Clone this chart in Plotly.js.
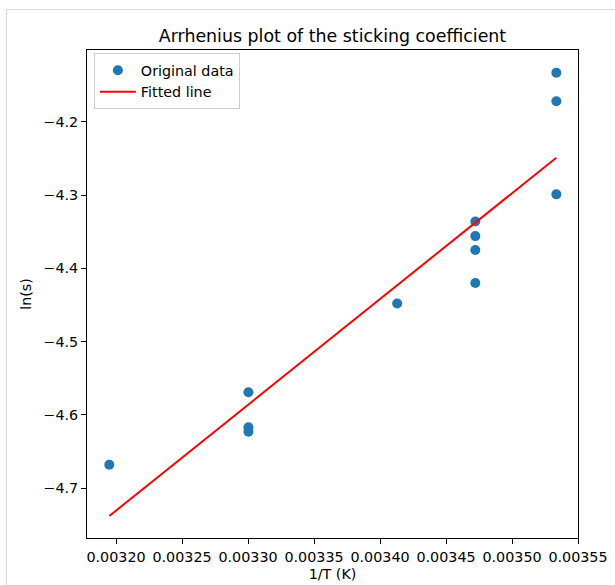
<!DOCTYPE html>
<html>
<head>
<meta charset="utf-8">
<script src="https://cdn.plot.ly/plotly-3.0.1.min.js"></script>
<style>
  html, body { margin: 0; padding: 0; background: #fff; }
  #wrap { position: relative; width: 615px; height: 585px; overflow: hidden; }
  #chart { position: absolute; left: 0; top: 0; width: 615px; height: 585px; }
  #frame { position: absolute; left: 6px; top: 9px; width: 700px; height: 700px;
           border-left: 1px solid #d9d9d9; border-top: 1px solid #d9d9d9; pointer-events: none; }
</style>
</head>
<body>
<div id="wrap">
  <div id="chart"></div>
  <div id="frame"></div>
</div>
<script>
// Original data: 1/T (K^-1) and ln(s)
const invT = [0.0031949, 0.0033003, 0.0033003, 0.0033003, 0.0034130,
              0.0034722, 0.0034722, 0.0034722, 0.0034722,
              0.0035336, 0.0035336, 0.0035336];
const lnS  = [-4.668, -4.569, -4.617, -4.623, -4.448,
              -4.336, -4.356, -4.375, -4.420,
              -4.133, -4.172, -4.299];
// Fitted line endpoints
const fitX = [0.0031949, 0.0035336];
const fitY = [-4.738, -4.249];

const title = "Arrhenius plot of the sticking coefficient";
const xLabel = "1/T (K)";
const yLabel = "ln(s)";
const xTicks = [0.00320, 0.00325, 0.00330, 0.00335, 0.00340, 0.00345, 0.00350, 0.00355];
const yTicks = [-4.7, -4.6, -4.5, -4.4, -4.3, -4.2];

const font = "DejaVu Sans, sans-serif";
const fs = 14.3;

const traces = [
  {
    x: invT, y: lnS, type: "scatter", mode: "markers", name: "Original data",
    marker: { color: "#1f77b4", size: 10 }
  },
  {
    x: fitX, y: fitY, type: "scatter", mode: "lines", name: "Fitted line",
    line: { color: "red", width: 2 }
  }
];

const axisCommon = {
  showgrid: false, zeroline: false, showline: true, mirror: true,
  linecolor: "#000", linewidth: 1, ticks: "outside", ticklen: 5,
  tickwidth: 1, tickcolor: "#000",
  tickfont: { family: font, size: fs, color: "#000" }
};

const layout = {
  width: 615, height: 585,
  margin: { l: 87, r: 37, t: 50, b: 47 },
  paper_bgcolor: "#fff", plot_bgcolor: "#fff",
  font: { family: font, color: "#000" },
  title: {
    text: title, font: { family: font, size: 17.4, color: "#000" },
    x: (87 + 578) / 2 / 615, xanchor: "center",
    y: 1 - 36 / 585, yanchor: "middle", yref: "container"
  },
  xaxis: Object.assign({}, axisCommon, {
    range: [0.003178, 0.00355],
    tickvals: xTicks, tickformat: ".5f", ticklabelstandoff: 1,
    title: { text: xLabel, font: { family: font, size: fs, color: "#000" }, standoff: 4 }
  }),
  yaxis: Object.assign({}, axisCommon, {
    range: [-4.768, -4.102],
    tickvals: yTicks, tickformat: ".1f",
    title: { text: yLabel, font: { family: font, size: fs, color: "#000" }, standoff: 8 }
  }),
  showlegend: true,
  legend: {
    x: 0.014, y: 0.993, xanchor: "left", yanchor: "top",
    bgcolor: "rgba(255,255,255,0.8)", bordercolor: "#cccccc", borderwidth: 1,
    font: { family: font, size: fs, color: "#000" },
    itemwidth: 36, tracegroupgap: 0
  }
};

Plotly.newPlot("chart", traces, layout, { displayModeBar: false, staticPlot: true });
</script>
</body>
</html>
